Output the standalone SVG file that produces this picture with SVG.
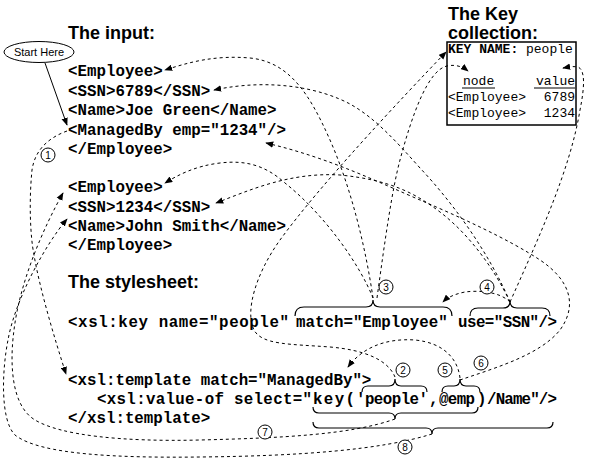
<svg xmlns="http://www.w3.org/2000/svg" width="593" height="467" viewBox="0 0 593 467">
<defs>
<marker id="ah" viewBox="0 0 10 8" refX="9" refY="4" markerWidth="8" markerHeight="7" orient="auto" markerUnits="userSpaceOnUse"><path d="M0,0 L10,4 L0,8 z" fill="#000"/></marker>
<style>
.h{font-family:"Liberation Sans",Arial,sans-serif;font-weight:bold;font-size:18px}
.c{font-family:"Liberation Mono","Courier New",monospace;font-weight:bold;font-size:15.8px}
.k{font-family:"Liberation Mono","Courier New",monospace;font-size:13px}
.d{fill:none;stroke:#000;stroke-width:1;stroke-dasharray:3 3}
.s{fill:none;stroke:#000;stroke-width:1}
.br{fill:none;stroke:#000;stroke-width:1.2}
.n circle{fill:#fff;stroke:#000;stroke-width:1}
.n text{font-family:"Liberation Sans",Arial,sans-serif;font-size:10px;text-anchor:middle}
</style>
</defs>
<rect width="593" height="467" fill="#fff"/>

<g id="connectors">
<path class="s" d="M45,63 L67,125" marker-end="url(#ah)"/>
<path class="d" d="M67,131 C48,138 35,150 32,170 C29,200 30,235 34,255 C40,290 55,340 66,374" marker-end="url(#ah)"/>
<path class="d" d="M373,298 C366,250 352,190 330,140 C310,95 290,62 250,58 C215,55 190,62 165,70" marker-end="url(#ah)"/>
<path class="d" d="M373,298 C360,265 325,215 285,183 C265,165 245,160 220,163 C195,166 178,175 165,183" marker-end="url(#ah)"/>
<path class="d" d="M377,298 C385,240 392,190 400,160 C412,115 428,70 447,66 C456,64 463,67 468,71" marker-end="url(#ah)"/>
<path class="d" d="M395,377 C388,360 365,350 330,347 C290,344 262,345 254,330 C245,312 255,275 280,240 C320,185 400,100 446,52" marker-end="url(#ah)"/>
<path class="d" d="M510,302 C490,255 455,205 420,168 C395,140 375,118 350,104 C320,88 270,78 214,90" marker-end="url(#ah)"/>
<path class="d" d="M510,302 C495,270 470,235 440,212 C415,193 390,180 340,175 C290,172 250,190 216,203" marker-end="url(#ah)"/>
<path class="d" d="M510,302 C540,235 570,170 580,110 C585,85 585,70 578,67 C572,66 568,67 563,68" marker-end="url(#ah)"/>
<path class="d" d="M510,302 C500,292 480,290 465,292 C455,294 448,297 443,302" marker-end="url(#ah)"/>
<path class="d" d="M460,378 C458,360 445,343 415,340 C385,338 362,348 348,367" marker-end="url(#ah)"/>
<path class="d" d="M460,380 C495,368 540,355 560,330 C578,305 570,280 540,260 C510,240 460,217 420,200 C380,183 330,158 266,143" marker-end="url(#ah)"/>
<path class="d" d="M395,419 C350,435 280,438 200,440 C120,442 60,435 35,420 C10,405 10,360 14,330 C20,280 45,225 63,193" marker-end="url(#ah)"/>
<path class="d" d="M432,434 C380,450 300,456 200,457 C120,458 40,455 15,435 C0,420 2,370 8,340 C15,300 45,245 67,219" marker-end="url(#ah)"/>
</g>

<g id="braces">
<path class="br" d="M295,316 Q295,307 304,307 L366,307 Q373,307 373,300 Q373,307 380,307 L443,307 Q452,307 452,316"/>
<path class="br" d="M470,316 Q470,308 478,308 L503,308 Q510,308 510,301 Q510,308 517,308 L542,308 Q550,308 550,316"/>
<path class="br" d="M362,392 Q362,386 368,386 L389,386 Q395,386 395,379 Q395,386 401,386 L421,386 Q427,386 427,392"/>
<path class="br" d="M442,392 Q442,386 448,386 L454,386 Q460,386 460,379 Q460,386 466,386 L474,386 Q480,386 480,392"/>
<path class="br" d="M313,407 Q313,413 319,413 L389,413 Q395,413 395,419 Q395,413 401,413 L472,413 Q478,413 478,407"/>
<path class="br" d="M313,422 Q313,428 319,428 L426,428 Q432,428 432,434 Q432,428 438,428 L547,428 Q553,428 553,422"/>
</g>

<g id="start">
<ellipse cx="39" cy="52" rx="35" ry="10.5" fill="#fff" stroke="#000" stroke-width="1"/>
<text x="39" y="56" font-family="Liberation Sans, Arial, sans-serif" font-size="11" text-anchor="middle">Start Here</text>
</g>

<g id="input">
<text class="h" x="68" y="39">The input:</text>
<text class="c" x="68" y="76">&lt;Employee&gt;</text>
<text class="c" x="68" y="96">&lt;SSN&gt;6789&lt;/SSN&gt;</text>
<text class="c" x="68" y="115">&lt;Name&gt;Joe Green&lt;/Name&gt;</text>
<text class="c" x="68" y="135">&lt;ManagedBy emp="1234"/&gt;</text>
<text class="c" x="68" y="154">&lt;/Employee&gt;</text>
<text class="c" x="68" y="192">&lt;Employee&gt;</text>
<text class="c" x="68" y="212">&lt;SSN&gt;1234&lt;/SSN&gt;</text>
<text class="c" x="68" y="231">&lt;Name&gt;John Smith&lt;/Name&gt;</text>
<text class="c" x="68" y="250">&lt;/Employee&gt;</text>
</g>

<g id="keycollection">
<text class="h" x="448" y="20">The Key</text>
<text class="h" x="448" y="39">collection:</text>
<rect x="447" y="42" width="129" height="83" fill="none" stroke="#000" stroke-width="1.5"/>
<text class="k" x="448" y="53"><tspan font-weight="bold">KEY NAME:</tspan> people</text>
<text class="k" x="463" y="85">node</text>
<text class="k" x="575" y="85" text-anchor="end">value</text>
<path class="s" d="M462,88 H495 M534,88 H575"/>
<text class="k" x="448" y="101">&lt;Employee&gt;</text>
<text class="k" x="575" y="101" text-anchor="end">6789</text>
<text class="k" x="448" y="117">&lt;Employee&gt;</text>
<text class="k" x="575" y="117" text-anchor="end">1234</text>
</g>

<g id="stylesheet">
<text class="h" x="68" y="288">The stylesheet:</text>
<text class="c" y="327"><tspan x="68" textLength="221">&lt;xsl:key name="people"</tspan><tspan x="296">match="Employee"</tspan><tspan x="458" textLength="99">use="SSN"/&gt;</tspan></text>
<text class="c" x="68" y="385">&lt;xsl:template match="ManagedBy"&gt;</text>
<text class="c" y="404"><tspan x="97" textLength="215">&lt;xsl:value-of select="</tspan><tspan x="313" textLength="42">key(</tspan><tspan x="356" textLength="72">'people'</tspan><tspan x="429">,</tspan><tspan x="439" textLength="36">@emp</tspan><tspan x="477">)</tspan><tspan x="487" textLength="70">/Name"/&gt;</tspan></text>
<text class="c" x="68" y="423">&lt;/xsl:template&gt;</text>
</g>

<g id="labels" class="n">
<g id="l1"><circle cx="48" cy="155" r="7"/><text x="48" y="158.5">1</text></g>
<g id="l2"><circle cx="403" cy="370" r="7"/><text x="403" y="373.5">2</text></g>
<g id="l3"><circle cx="386" cy="287" r="7"/><text x="386" y="290.5">3</text></g>
<g id="l4"><circle cx="487" cy="287" r="7"/><text x="487" y="290.5">4</text></g>
<g id="l5"><circle cx="445" cy="370" r="7"/><text x="445" y="373.5">5</text></g>
<g id="l6"><circle cx="481" cy="363" r="7"/><text x="481" y="366.5">6</text></g>
<g id="l7"><circle cx="265" cy="432" r="7"/><text x="265" y="435.5">7</text></g>
<g id="l8"><circle cx="405" cy="447" r="7"/><text x="405" y="450.5">8</text></g>
</g>
</svg>
